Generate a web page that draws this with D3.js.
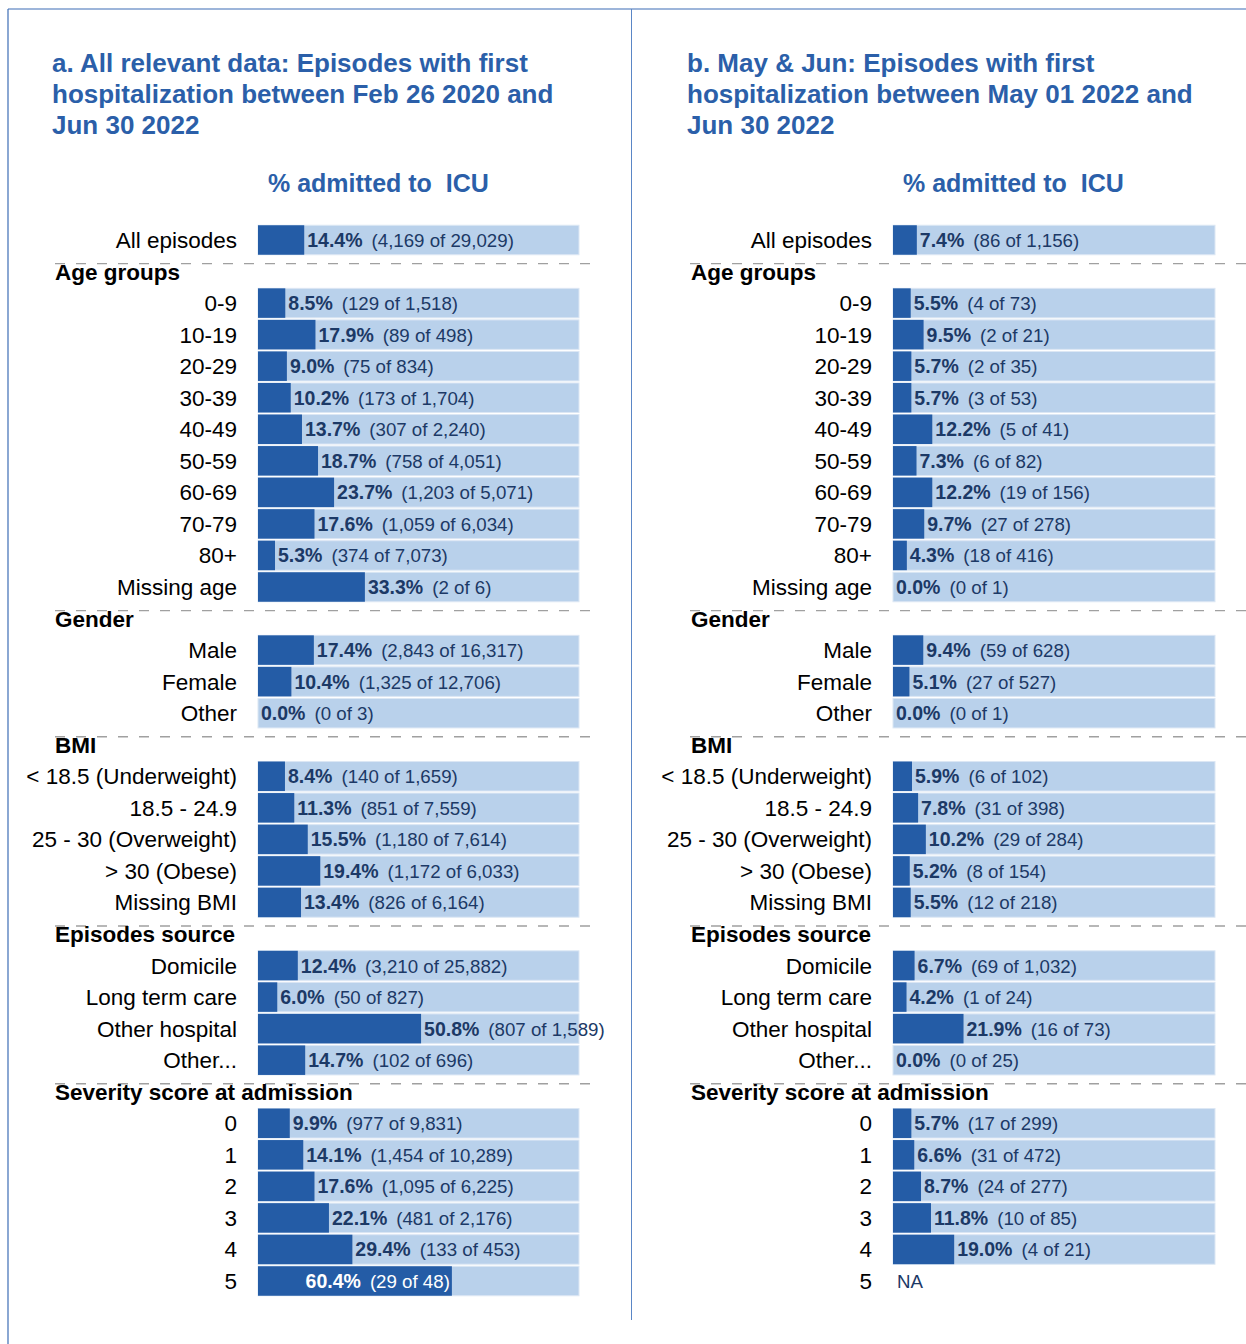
<!DOCTYPE html>
<html>
<head>
<meta charset="utf-8">
<title>ICU admission</title>
<script src="https://d3js.org/d3.v7.min.js"></script>
<style>
  body { margin: 0; background: #fff; }
  text { font-family: "Liberation Sans", Arial, sans-serif; }
</style>
</head>
<body>
<svg width="1246" height="1344"></svg>
<script>
// groups and categories
const groups = ["", "Age groups", "Gender", "BMI", "Episodes source", "Severity score at admission"];
const categories = [
  ["All episodes"],
  ["0-9", "10-19", "20-29", "30-39", "40-49", "50-59", "60-69", "70-79", "80+", "Missing age"],
  ["Male", "Female", "Other"],
  ["< 18.5 (Underweight)", "18.5 - 24.9", "25 - 30 (Overweight)", "> 30 (Obese)", "Missing BMI"],
  ["Domicile", "Long term care", "Other hospital", "Other..."],
  ["0", "1", "2", "3", "4", "5"]
];

// panel a: all relevant data
const pctA = [[14.4], [8.5, 17.9, 9.0, 10.2, 13.7, 18.7, 23.7, 17.6, 5.3, 33.3], [17.4, 10.4, 0.0],
  [8.4, 11.3, 15.5, 19.4, 13.4], [12.4, 6.0, 50.8, 14.7], [9.9, 14.1, 17.6, 22.1, 29.4, 60.4]];
const icuA = [[4169], [129, 89, 75, 173, 307, 758, 1203, 1059, 374, 2], [2843, 1325, 0],
  [140, 851, 1180, 1172, 826], [3210, 50, 807, 102], [977, 1454, 1095, 481, 133, 29]];
const totA = [[29029], [1518, 498, 834, 1704, 2240, 4051, 5071, 6034, 7073, 6], [16317, 12706, 3],
  [1659, 7559, 7614, 6033, 6164], [25882, 827, 1589, 696], [9831, 10289, 6225, 2176, 453, 48]];

// panel b: May & Jun
const pctB = [[7.4], [5.5, 9.5, 5.7, 5.7, 12.2, 7.3, 12.2, 9.7, 4.3, 0.0], [9.4, 5.1, 0.0],
  [5.9, 7.8, 10.2, 5.2, 5.5], [6.7, 4.2, 21.9, 0.0], [5.7, 6.6, 8.7, 11.8, 19.0, null]];
const icuB = [[86], [4, 2, 2, 3, 5, 6, 19, 27, 18, 0], [59, 27, 0],
  [6, 31, 29, 8, 12], [69, 1, 16, 0], [17, 31, 24, 10, 4, null]];
const totB = [[1156], [73, 21, 35, 53, 41, 82, 156, 278, 416, 1], [628, 527, 1],
  [102, 398, 284, 154, 218], [1032, 24, 73, 25], [299, 472, 277, 85, 21, null]];

const titleA = ["a. All relevant data: Episodes with first", "hospitalization between Feb 26 2020 and", "Jun 30 2022"];
const titleB = ["b. May & Jun: Episodes with first", "hospitalization between May 01 2022 and", "Jun 30 2022"];

const blue = "#2b5fa9", dark = "#245ca6", light = "#b9d1eb", navy = "#1c3966";
const fmt = d3.format(",");

// flatten to rows (headers take a slot too)
function buildRows(pct, icu, tot) {
  const rows = [];
  groups.forEach((g, gi) => {
    if (g) rows.push({ key: "h" + gi, header: g });
    categories[gi].forEach((c, ci) => rows.push({
      key: gi + "-" + ci, label: c, pct: pct[gi][ci], icu: icu[gi][ci], tot: tot[gi][ci]
    }));
  });
  return rows;
}

const svg = d3.select("svg");

// frame lines
svg.append("line").attr("x1", 8).attr("x2", 1246).attr("y1", 9).attr("y2", 9)
  .attr("stroke", "#3d6db5").attr("stroke-width", 1.2);
svg.append("line").attr("x1", 8).attr("x2", 8).attr("y1", 9).attr("y2", 1344)
  .attr("stroke", "#3d6db5").attr("stroke-width", 1.2);
svg.append("line").attr("x1", 631.5).attr("x2", 631.5).attr("y1", 9).attr("y2", 1320)
  .attr("stroke", "#5a86c6").attr("stroke-width", 1);

function panel(opt) {
  const rows = buildRows(opt.pct, opt.icu, opt.tot);
  const y = d3.scalePoint().domain(rows.map(d => d.key)).range([240, 1281]);
  const x = d3.scaleLinear().domain([0, 100]).range([opt.barX, opt.barX + opt.barW]);
  const g = svg.append("g");
  const bh = 29.5;

  g.append("g").selectAll("text").data(opt.title).join("text")
    .attr("x", opt.titleX).attr("y", (d, i) => 72 + i * 31)
    .attr("fill", blue).attr("font-size", 26).attr("font-weight", "bold")
    .text(d => d);

  g.append("text").attr("x", opt.barX + 10).attr("y", 192)
    .attr("fill", blue).attr("font-size", 25).attr("font-weight", "bold")
    .style("white-space", "pre").text("% admitted to  ICU");

  const heads = rows.filter(d => d.header);
  g.append("g").selectAll("line").data(heads).join("line")
    .attr("x1", opt.dash[0]).attr("x2", opt.dash[1])
    .attr("y1", d => y(d.key) - 8).attr("y2", d => y(d.key) - 8)
    .attr("stroke", "#a0a0a0").attr("stroke-width", 1.3).attr("stroke-dasharray", "10,11");
  g.append("g").selectAll("text").data(heads).join("text")
    .attr("x", opt.headX).attr("y", d => y(d.key) + 8)
    .attr("font-size", 22.5).attr("font-weight", "bold").attr("fill", "#000")
    .text(d => d.header);

  const cats = rows.filter(d => !d.header);
  g.append("g").selectAll("text").data(cats).join("text")
    .attr("x", opt.barX - 21).attr("y", d => y(d.key) + 8)
    .attr("text-anchor", "end").attr("font-size", 22.5).attr("fill", "#000")
    .text(d => d.label);

  const withVal = cats.filter(d => d.pct != null);
  g.append("g").selectAll("rect").data(withVal).join("rect")
    .attr("x", x(0)).attr("width", x(100) - x(0))
    .attr("y", d => y(d.key) - bh / 2).attr("height", bh)
    .attr("fill", light).attr("stroke", "#dce7f4").attr("stroke-width", 1);
  g.append("g").selectAll("rect").data(withVal).join("rect")
    .attr("x", x(0)).attr("width", d => x(d.pct) - x(0))
    .attr("y", d => y(d.key) - bh / 2).attr("height", bh)
    .attr("fill", dark);

  const vt = g.append("g").selectAll("text").data(cats).join("text")
    .attr("y", d => y(d.key) + 7)
    .attr("font-size", 19.5)
    .attr("fill", d => d.pct > 55 ? "#fff" : navy)
    .attr("x", d => d.pct == null ? x(0) + 4 : d.pct > 55 ? x(d.pct) - 2 : x(d.pct) + 3)
    .attr("text-anchor", d => d.pct > 55 ? "end" : "start");
  vt.filter(d => d.pct == null).attr("font-size", 18.7).text("NA");
  const v = vt.filter(d => d.pct != null);
  v.append("tspan").attr("font-weight", "bold").text(d => d.pct.toFixed(1) + "%");
  v.append("tspan").attr("dx", 9).attr("font-size", 18.7)
    .text(d => "(" + fmt(d.icu) + " of " + fmt(d.tot) + ")");
}

panel({ pct: pctA, icu: icuA, tot: totA, title: titleA, titleX: 52, barX: 258, barW: 321, headX: 55, dash: [55, 600] });
panel({ pct: pctB, icu: icuB, tot: totB, title: titleB, titleX: 687, barX: 893, barW: 322, headX: 691, dash: [690, 1246] });
</script>
</body>
</html>
